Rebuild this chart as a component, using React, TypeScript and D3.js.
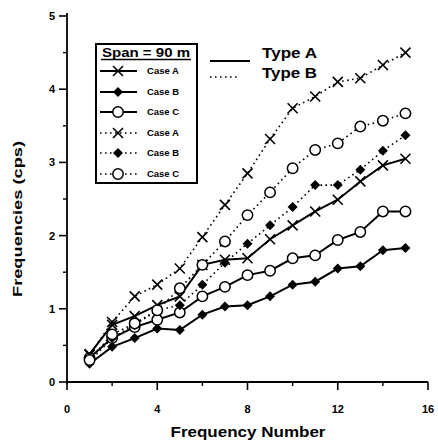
import React from "react";
import * as d3 from "d3";

const freqNumbers = [1, 2, 3, 4, 5, 6, 7, 8, 9, 10, 11, 12, 13, 14, 15];
const typeACaseA = [0.38, 0.78, 0.9, 1.05, 1.17, 1.6, 1.67, 1.69, 1.95, 2.14, 2.33, 2.49, 2.74, 2.96, 3.05];
const typeACaseB = [0.25, 0.48, 0.6, 0.73, 0.71, 0.92, 1.03, 1.05, 1.17, 1.33, 1.37, 1.55, 1.58, 1.8, 1.83];
const typeACaseC = [0.33, 0.6, 0.75, 0.85, 0.95, 1.17, 1.3, 1.46, 1.52, 1.69, 1.73, 1.94, 2.05, 2.33, 2.33];
const typeBCaseA = [0.37, 0.82, 1.17, 1.33, 1.55, 1.98, 2.42, 2.85, 3.32, 3.74, 3.9, 4.1, 4.15, 4.33, 4.5];
const typeBCaseB = [0.28, 0.6, 0.78, 0.98, 1.05, 1.33, 1.63, 1.89, 2.14, 2.39, 2.69, 2.69, 2.9, 3.16, 3.37];
const typeBCaseC = [0.3, 0.65, 0.8, 0.98, 1.28, 1.6, 1.92, 2.28, 2.59, 2.92, 3.17, 3.26, 3.49, 3.57, 3.67];

const xMajorTicks = [0, 4, 8, 12, 16];
const xMinorTicks = [2, 6, 10, 14];
const yMajorTicks = [0, 1, 2, 3, 4, 5];
const yMinorTicks = [0.5, 1.5, 2.5, 3.5, 4.5];

const seriesNames = ["Case A", "Case B", "Case C", "Case A", "Case B", "Case C"];
const seriesTypes = ["A", "A", "A", "B", "B", "B"];
const seriesMarkers = ["x", "diamond", "circle", "x", "diamond", "circle"];
const seriesValues = [typeACaseA, typeACaseB, typeACaseC, typeBCaseA, typeBCaseB, typeBCaseC];

const FONT = "'Liberation Sans', Arial, sans-serif";

function Marker({ kind, cx, cy }: { kind: string; cx: number; cy: number }) {
  if (kind === "x") {
    const s = 5;
    return (
      <g stroke="#000" strokeWidth={1.6}>
        <line x1={cx - s} y1={cy - s} x2={cx + s} y2={cy + s} />
        <line x1={cx - s} y1={cy + s} x2={cx + s} y2={cy - s} />
      </g>
    );
  }
  if (kind === "diamond") {
    const s = 5;
    return <path d={`M${cx},${cy - s}L${cx + s},${cy}L${cx},${cy + s}L${cx - s},${cy}Z`} fill="#000" />;
  }
  return <circle cx={cx} cy={cy} r={5.2} fill="#fff" stroke="#000" strokeWidth={1.5} />;
}

export default function App() {
  const x = d3.scaleLinear().domain([0, 16]).range([67, 428]);
  const y = d3.scaleLinear().domain([0, 5]).range([382, 16]);
  const line = d3
    .line<number>()
    .x((_, i) => x(freqNumbers[i]))
    .y((d) => y(d));

  const legendRowY = [71, 92, 112, 133, 153, 174];

  return (
    <svg
      width={438}
      height={446}
      style={{ position: "absolute", left: 0, top: 0, background: "#fff" }}
      fontFamily={FONT}
    >
      <rect width={438} height={446} fill="#fff" />
      {/* axes */}
      <line x1={x(0)} y1={y(0)} x2={x(16)} y2={y(0)} stroke="#000" strokeWidth={1.8} />
      <line x1={x(0)} y1={y(0) + 2} x2={x(0)} y2={y(5) - 3} stroke="#000" strokeWidth={1.8} />
      {xMajorTicks.map((t) => (
        <g key={"xm" + t}>
          <line x1={x(t)} y1={y(0)} x2={x(t)} y2={y(0) + 8} stroke="#000" strokeWidth={1.6} />
          <text x={x(t)} y={y(0) + 31} textAnchor="middle" fontSize={11} fontWeight="bold">
            {t}
          </text>
        </g>
      ))}
      {xMinorTicks.map((t) => (
        <line key={"xn" + t} x1={x(t)} y1={y(0)} x2={x(t)} y2={y(0) + 4} stroke="#000" strokeWidth={1.4} />
      ))}
      {yMajorTicks.map((t) => (
        <g key={"ym" + t}>
          <line x1={x(0) - 8} y1={y(t)} x2={x(0)} y2={y(t)} stroke="#000" strokeWidth={1.6} />
          <text x={55} y={y(t) + 4} textAnchor="end" fontSize={11} fontWeight="bold">
            {t}
          </text>
        </g>
      ))}
      {yMinorTicks.map((t) => (
        <line key={"yn" + t} x1={x(0) - 4} y1={y(t)} x2={x(0)} y2={y(t)} stroke="#000" strokeWidth={1.4} />
      ))}
      <text
        transform={`translate(22,${(y(0) + y(5)) / 2 + 20}) rotate(-90)`}
        textAnchor="middle"
        fontSize={13}
        fontWeight="bold"
        textLength={156}
        lengthAdjust="spacingAndGlyphs"
      >
        Frequencies (cps)
      </text>
      <text
        x={248}
        y={437}
        textAnchor="middle"
        fontSize={14}
        fontWeight="bold"
        textLength={155}
        lengthAdjust="spacingAndGlyphs"
      >
        Frequency Number
      </text>

      {/* series */}
      {seriesValues.map((vals, si) => (
        <g key={"s" + si}>
          <path
            d={line(vals) || ""}
            fill="none"
            stroke="#000"
            strokeWidth={seriesTypes[si] === "A" ? 2 : 1.6}
            strokeDasharray={seriesTypes[si] === "A" ? undefined : "1.6,3.4"}
          />
          {vals.map((v, i) => (
            <Marker key={i} kind={seriesMarkers[si]} cx={x(freqNumbers[i])} cy={y(v)} />
          ))}
        </g>
      ))}

      {/* legend box */}
      <rect x={96} y={44} width={101} height={139} fill="#fff" stroke="#000" strokeWidth={2} />
      <text
        x={146}
        y={57}
        textAnchor="middle"
        fontSize={12.5}
        fontWeight="bold"
        textLength={88}
        lengthAdjust="spacingAndGlyphs"
      >
        Span = 90 m
      </text>
      <line x1={101} y1={59.5} x2={191} y2={59.5} stroke="#000" strokeWidth={1.4} />
      {legendRowY.map((ry, si) => (
        <g key={"lg" + si}>
          <line
            x1={100}
            y1={ry}
            x2={137}
            y2={ry}
            stroke="#000"
            strokeWidth={seriesTypes[si] === "A" ? 2 : 1.6}
            strokeDasharray={seriesTypes[si] === "A" ? undefined : "1.6,3.4"}
          />
          <Marker kind={seriesMarkers[si]} cx={118} cy={ry} />
          <text x={147} y={ry + 3} fontSize={8.5} fontWeight="bold" textLength={32} lengthAdjust="spacingAndGlyphs">
            {seriesNames[si]}
          </text>
        </g>
      ))}

      {/* type legend */}
      <line x1={210} y1={61} x2={250} y2={61} stroke="#000" strokeWidth={2} />
      <text x={262} y={58} fontSize={14} fontWeight="bold" textLength={55} lengthAdjust="spacingAndGlyphs">
        Type A
      </text>
      <line x1={210} y1={77} x2={240} y2={77} stroke="#000" strokeWidth={1.6} strokeDasharray="1.6,3.4" />
      <text x={262} y={78} fontSize={14} fontWeight="bold" textLength={55} lengthAdjust="spacingAndGlyphs">
        Type B
      </text>
    </svg>
  );
}
